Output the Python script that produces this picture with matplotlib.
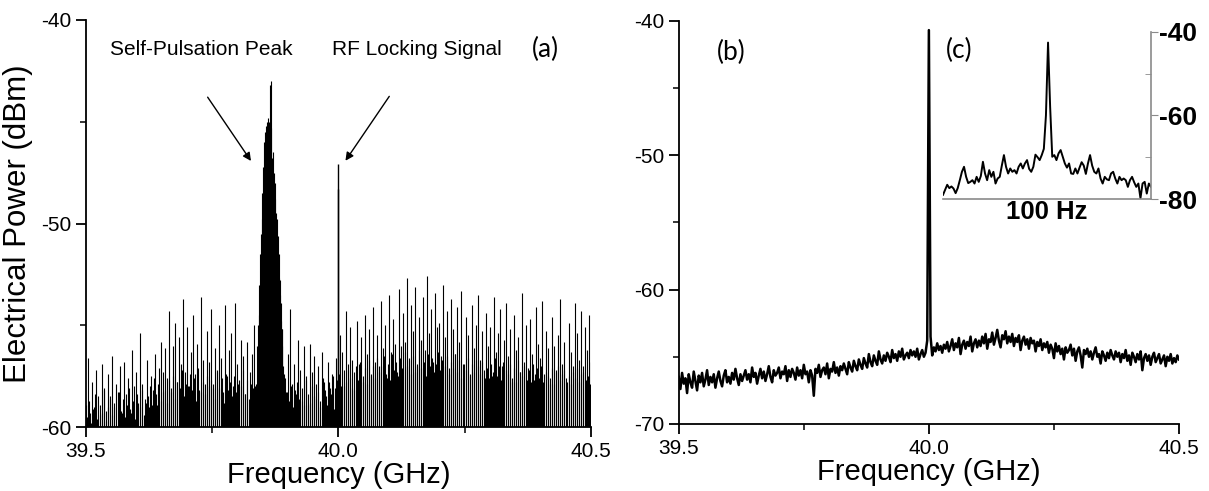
import numpy as np
import matplotlib
matplotlib.use("Agg")
import matplotlib.pyplot as plt
from matplotlib.ticker import MultipleLocator

plt.rcParams['font.family'] = ['Liberation Sans', 'DejaVu Sans']

# (a) RF spectrum, free running with lock signal -- spike heights every 4 MHz
noise_start, noise_stop = 39.5, 40.5
noise_spikes = [
    -58.9, -56.6, -59.3, -57.8, -59.0, -57.2, -58.5, -59.4, -56.9, -58.1,
    -59.2, -57.4, -58.6, -56.5, -59.0, -57.9, -58.3, -57.0, -59.3, -56.8,
    -58.4, -57.6, -59.1, -56.2, -58.0, -57.3, -58.8, -55.4, -57.9, -58.6,
    -56.7, -59.0, -57.5, -58.2, -56.4, -58.9, -57.1, -55.8, -58.3, -56.1,
    -57.6, -54.3, -58.1, -56.0, -54.9, -57.8, -55.6, -56.9, -53.7, -57.3,
    -55.1, -58.0, -56.3, -54.5, -57.4, -55.9, -58.2, -53.6, -56.7, -57.9,
    -55.3, -56.8, -54.2, -58.1, -56.1, -57.2, -55.0, -56.6, -58.3, -54.0,
    -57.5, -56.2, -55.4, -58.0, -53.9, -56.9, -57.7, -55.7, -56.5, -58.4,
    -55.8, -57.3, -56.4, -55.0, -57.9, -56.0, -57.1, -58.0, -57.5, -58.2,
    -57.8, -58.5, -57.0, -56.6, -55.9, -57.4, -56.8, -55.2, -57.6, -58.3,
    -56.4, -54.2, -57.9, -56.9, -58.4, -55.7, -57.2, -58.7, -56.0, -57.5,
    -58.9, -55.9, -57.3, -56.5, -58.6, -57.0, -59.0, -56.3, -57.8, -58.5,
    -56.8, -58.1, -57.4, -59.1, -56.6, -57.9, -55.5, -56.3, -58.0, -54.3,
    -57.2, -55.1, -56.7, -58.2, -54.8, -56.9, -55.6, -57.8, -54.5, -56.4,
    -55.2, -57.5, -54.1, -56.8, -55.5, -57.0, -53.8, -56.1, -55.0, -57.6,
    -53.5, -56.3, -54.7, -55.9, -57.3, -53.2, -56.0, -54.4, -55.8, -52.7,
    -56.6, -54.0, -55.3, -53.1, -57.0, -54.6, -55.7, -53.6, -56.2, -52.6,
    -55.4, -54.2, -56.8, -53.4, -55.1, -54.9, -56.5, -53.0, -55.6, -54.3,
    -57.1, -53.7, -55.2, -56.4, -54.1, -55.8, -53.3, -56.9, -54.6, -55.5,
    -57.4, -54.0, -56.1, -55.0, -53.5, -56.7, -55.3, -57.2, -54.4, -56.0,
    -55.1, -57.5, -53.6, -56.3, -55.4, -54.2, -57.0, -55.7, -53.9, -56.5,
    -55.2, -57.8, -54.5, -56.2, -55.6, -57.3, -53.4, -56.8, -55.0, -57.1,
    -54.7, -56.4, -57.7, -54.1, -55.9, -56.6, -53.8, -57.4, -55.3, -56.1,
    -57.9, -54.6, -56.0, -57.2, -55.5, -53.7, -56.9, -55.8, -57.6, -54.9,
    -56.3, -57.0, -53.9, -55.4, -56.7, -54.3, -57.3, -55.1, -56.2, -54.5,
    -56.8,
]

# lower spikes sitting between the ones above
floor_start, floor_stop = 39.502, 40.498
floor_spikes = [
    -59.5, -58.7, -59.8, -59.1, -58.4, -59.6, -58.9, -59.3, -58.2, -59.7,
    -59.0, -58.5, -59.4, -58.8, -59.9, -58.3, -59.2, -58.6, -59.5, -58.9,
    -58.1, -59.3, -58.7, -59.6, -58.4, -59.0, -58.2, -59.4, -58.8, -58.5,
    -58.0, -58.9, -57.6, -58.4, -57.9, -58.7, -57.3, -58.2, -58.8, -57.7,
    -58.3, -57.5, -58.6, -57.8, -58.1, -57.2, -58.5, -57.9, -58.0, -57.4,
    -58.2, -57.6, -58.7, -57.1, -58.3, -57.8, -58.4, -57.5, -58.0, -57.7,
    -57.9, -58.6, -57.3, -58.1, -57.6, -58.8, -57.4, -58.2, -57.8, -58.5,
    -57.5, -58.3, -57.9, -58.0, -57.2, -58.4, -57.7, -58.6, -57.9, -58.1,
    -58.0, -58.5, -57.8, -58.3, -58.6, -57.9, -58.4, -57.7, -58.8, -58.2,
    -58.6, -57.9, -58.4, -58.9, -57.6, -58.3, -58.7, -58.0, -59.0, -58.2,
    -57.8, -58.6, -58.1, -58.9, -57.7, -58.4, -58.8, -58.0, -58.5, -57.9,
    -58.3, -58.7, -57.6, -58.2, -58.9, -57.8, -58.4, -57.5, -58.1, -57.7,
    -57.4, -58.0, -57.2, -57.8, -56.9, -57.6, -58.1, -57.3, -57.0, -57.7,
    -56.8, -57.5, -57.1, -57.9, -56.7, -57.4, -57.0, -57.6, -56.6, -57.3,
    -57.0, -56.5, -57.4, -56.9, -57.7, -56.4, -57.2, -56.8, -57.5, -56.6,
    -57.1, -56.3, -57.0, -56.7, -57.4, -56.5, -57.3, -56.9, -56.2, -57.1,
    -56.8, -57.5, -56.4, -57.0, -56.6, -57.3, -56.9, -56.3, -57.2, -56.7,
    -57.0, -56.5, -57.4, -56.8, -57.1, -56.4, -57.3, -56.7, -57.6, -56.9,
    -57.2, -56.6, -57.5, -56.9, -57.3, -56.7, -57.0, -57.4, -56.8, -57.6,
    -57.1, -57.6, -56.9, -57.3, -56.6, -57.5, -57.0, -57.7, -56.8, -57.2,
    -57.4, -56.9, -57.6, -57.1, -57.8, -56.7, -57.3, -57.5, -57.0, -57.7,
    -57.2, -57.8, -56.9, -57.4, -57.1, -57.6, -57.0, -57.8, -57.3, -57.5,
    -57.6, -57.1, -57.9, -57.3, -57.0, -57.7, -57.4, -57.2, -57.8, -57.5,
    -57.9, -57.3, -57.6, -57.1, -57.8, -57.4, -57.0, -57.7, -57.5, -57.9,
]

# self-pulsation cluster, 1 MHz steps
cluster_start, cluster_stop = 39.838, 39.892
cluster_spikes = [
    -56.0, -58.0, -55.0, -57.5, -54.5, -53.0, -55.5, -51.5, -50.5, -52.0,
    -48.5, -49.8, -47.2, -48.5, -46.0, -47.5, -45.5, -46.8, -45.2, -46.0,
    -45.0, -46.5, -45.5, -44.8, -46.2, -45.0, -43.2, -45.8, -43.0, -45.3,
    -46.8, -47.3, -46.5, -48.0, -47.5, -48.3, -48.8, -48.0, -49.5, -50.5,
    -49.8, -51.2, -50.6, -52.0, -51.5, -52.7, -53.5, -52.8, -54.8, -53.9,
    -56.0, -55.2, -57.0, -58.2, -57.4,
]

lock_freq = [39.999, 40.0]
lock_power = [-48.3, -47.1]

# (b) locked spectrum, 301 sweep points
locked_power = [
    -66.5, -67.4, -66.2, -67.0, -66.6, -67.7, -66.3, -66.9, -67.3, -66.1,
    -66.8, -67.5, -66.4, -66.9, -66.2, -67.2, -66.7, -66.0, -67.1, -66.5,
    -66.9, -66.3, -67.3, -66.6, -66.1, -66.8, -67.2, -66.4, -66.0, -66.9,
    -66.5, -67.0, -66.2, -66.7, -65.9, -66.6, -67.1, -66.3, -66.8, -66.4,
    -66.0, -66.7, -66.3, -66.9, -65.8, -66.5, -66.2, -67.0, -66.4, -65.9,
    -66.6, -66.1, -66.8, -66.3, -65.7, -66.5, -66.9, -66.0, -66.4, -66.2,
    -65.8, -66.6, -66.1, -66.3, -65.7, -66.8, -66.0, -66.5, -65.9, -66.2,
    -66.7, -65.8, -66.4, -66.0, -66.6, -65.6, -66.3, -66.1, -66.9, -66.0,
    -66.4, -67.9, -65.9, -66.2, -65.6, -66.5, -66.0, -65.8, -66.3, -65.5,
    -66.6, -65.9, -66.1, -65.4, -66.2, -65.8, -66.4, -65.7, -66.0, -65.5,
    -65.9, -66.3, -65.4, -65.8, -66.1, -65.3, -65.7, -66.0, -65.2, -65.6,
    -65.9, -65.1, -65.5, -65.8, -64.8, -65.4, -65.7, -64.9, -65.3, -65.6,
    -64.6, -65.2, -65.5, -64.9, -65.3, -64.7, -65.0, -65.4, -64.5, -65.1,
    -64.8, -65.3, -64.6, -65.0, -64.4, -65.2, -64.9, -64.7, -65.1, -64.5,
    -64.9, -64.6, -65.0, -64.4, -65.2, -64.8, -64.5, -65.0, -64.7, -63.8,
    -40.7, -63.5, -64.9, -64.3, -64.6, -64.0, -64.5, -64.2, -64.7, -64.1,
    -64.4, -63.9, -64.6, -64.2, -63.7, -64.5, -64.0, -64.3, -63.6, -64.8,
    -64.1, -63.8, -64.4, -63.9, -64.2, -63.5, -64.6, -64.0, -63.7, -64.3,
    -63.8, -64.2, -63.5, -64.0, -63.3, -64.4, -63.7, -63.9, -63.2, -64.1,
    -63.6, -63.0, -63.8, -64.3, -63.4, -63.7, -63.1, -64.0, -63.5, -63.9,
    -63.3, -64.2, -63.6, -63.9, -63.4, -64.5, -63.8, -63.5, -64.1, -63.7,
    -64.4, -63.6, -64.0, -63.8, -64.6, -63.9, -64.2, -63.7, -64.5, -64.0,
    -64.3, -63.9, -64.7, -64.1, -64.4, -65.1, -64.0, -64.6, -64.2, -64.8,
    -64.4, -65.2, -64.3, -64.7, -64.5, -64.1, -64.9, -64.4, -65.3, -64.6,
    -64.3, -64.9, -65.8, -64.5, -64.8, -64.4, -65.0, -64.6, -65.2, -64.7,
    -64.3, -65.0, -64.8, -65.5, -64.6, -64.9, -65.3, -64.7, -65.1, -64.5,
    -64.9, -65.2, -64.6, -65.0, -64.7, -65.4, -64.8, -65.1, -64.5, -65.3,
    -64.9, -65.6, -64.7, -65.0, -65.4, -64.8, -65.2, -64.6, -66.0, -65.1,
    -64.8, -65.3, -64.9, -65.6, -65.0, -64.7, -65.4, -65.1, -64.8, -65.5,
    -65.2, -64.9, -65.7, -65.0, -65.3, -64.8, -65.5, -65.1, -65.4, -64.9,
    -65.2,
]

# (c) inset, 100 Hz span
inset_power = [
    -79.0, -77.8, -76.6, -77.4, -77.0, -77.5, -78.6, -77.4, -75.5, -73.5,
    -72.3, -74.7, -76.2, -75.9, -75.5, -76.3, -74.7, -75.9, -74.5, -71.1,
    -73.9, -75.5, -73.1, -74.7, -73.5, -76.3, -75.1, -74.7, -72.0, -69.5,
    -72.3, -73.9, -72.7, -73.5, -73.1, -73.9, -72.3, -71.5, -72.7, -71.5,
    -70.7, -72.8, -73.5, -72.3, -69.4, -70.0, -70.7, -69.5, -68.0, -60.0,
    -42.6, -58.0, -69.9, -69.5, -70.7, -69.1, -68.3, -69.9, -71.5, -72.5,
    -71.5, -73.9, -74.0, -72.7, -73.9, -72.5, -71.2, -72.0, -74.0, -71.5,
    -69.5, -72.0, -73.5, -73.9, -72.7, -75.1, -76.3, -74.7, -75.3, -75.5,
    -73.9, -73.5, -75.1, -76.3, -74.7, -75.5, -75.1, -75.5, -77.1, -75.5,
    -74.7, -76.0, -77.1, -76.3, -79.8, -76.3, -75.9, -78.7, -76.3, -77.1,
]

fig = plt.figure(figsize=(12.09, 4.91), dpi=100)
ax1 = fig.add_axes([0.0711, 0.1303, 0.4175, 0.829])
ax2 = fig.add_axes([0.5614, 0.1365, 0.4138, 0.8213])
ax3 = fig.add_axes([0.780, 0.5947, 0.172, 0.3407])

# ---- panel (a)
f_floor = np.linspace(floor_start, floor_stop, len(floor_spikes))
ax1.vlines(f_floor, -60, floor_spikes, color='black', lw=0.8)
f_noise = np.linspace(noise_start, noise_stop, len(noise_spikes))
ax1.vlines(f_noise, -60, noise_spikes, color='black', lw=0.8)
f_cl = np.linspace(cluster_start, cluster_stop, len(cluster_spikes))
ax1.vlines(f_cl, -60, cluster_spikes, color='black', lw=0.8)
ax1.vlines(lock_freq, -60, lock_power, color='black', lw=1.0)

ax1.set_xlim(39.5, 40.5)
ax1.set_ylim(-60, -40)
ax1.set_xticks([39.5, 40.0, 40.5])
ax1.set_yticks([-60, -50, -40])
ax1.xaxis.set_minor_locator(MultipleLocator(0.25))
ax1.yaxis.set_minor_locator(MultipleLocator(5))
ax1.set_xlabel('Frequency (GHz)', fontsize=21, labelpad=0)
ax1.set_ylabel('Electrical Power (dBm)', fontsize=22.5, labelpad=6)

ax1.text(39.728, -41.47, 'Self-Pulsation Peak', fontsize=15, ha='center', va='center')
ax1.text(40.156, -41.47, 'RF Locking Signal', fontsize=15, ha='center', va='center')
ax1.text(40.411, -41.47, '(a)', fontsize=19, ha='center', va='center', family='Lato')
ax1.annotate('', xy=(39.83, -47.04), xytext=(39.738, -43.68),
             arrowprops=dict(arrowstyle='-|>', lw=1, color='black', mutation_scale=12))
ax1.annotate('', xy=(40.011, -47.03), xytext=(40.104, -43.64),
             arrowprops=dict(arrowstyle='-|>', lw=1, color='black', mutation_scale=12))

# ---- panel (b)
f_locked = np.linspace(39.5, 40.5, len(locked_power))
ax2.plot(f_locked, locked_power, color='black', lw=1.8)
ax2.set_xlim(39.5, 40.5)
ax2.set_ylim(-70, -40)
ax2.set_xticks([39.5, 40.0, 40.5])
ax2.set_yticks([-70, -60, -50, -40])
ax2.xaxis.set_minor_locator(MultipleLocator(0.25))
ax2.yaxis.set_minor_locator(MultipleLocator(5))
ax2.set_xlabel('Frequency (GHz)', fontsize=21, labelpad=0)
ax2.text(39.6055, -42.33, '(b)', fontsize=19, ha='center', va='center', family='Lato')
ax2.text(40.060, -42.18, '(c)', fontsize=19, ha='center', va='center', family='Lato')

for ax in (ax1, ax2):
    for side in ('top', 'right'):
        ax.spines[side].set_visible(False)
    for side in ('left', 'bottom'):
        ax.spines[side].set_linewidth(1.3)
    ax.tick_params(which='major', direction='out', length=7, width=1.3, labelsize=15)
    ax.tick_params(which='minor', direction='out', length=4, width=1.1)
    ax.set_yticklabels([f'{int(t)}' for t in ax.get_yticks()])
    ax.set_xticklabels(['39.5', '40.0', '40.5'])

# ---- inset (c)
f_inset = np.linspace(-50, 50, len(inset_power))
ax3.plot(f_inset, inset_power, color='black', lw=1.4)
ax3.set_xlim(-50, 50)
ax3.set_ylim(-80, -40)
ax3.patch.set_alpha(0)
for side in ('top', 'left'):
    ax3.spines[side].set_visible(False)
for side in ('right', 'bottom'):
    ax3.spines[side].set_color('#8a8a8a')
    ax3.spines[side].set_linewidth(1.2)
ax3.yaxis.tick_right()
ax3.set_yticks([-80, -60, -40])
ax3.set_yticklabels(['-80', '-60', '-40'], fontweight='bold')
ax3.yaxis.set_minor_locator(MultipleLocator(10))
ax3.tick_params(axis='y', which='major', direction='out', length=5, color='#8a8a8a',
                labelsize=19, pad=1)
ax3.tick_params(axis='y', which='minor', direction='in', length=4, color='#8a8a8a')
ax3.set_xticks([])
ax3.set_xlabel('100 Hz', fontsize=18.5, fontweight='bold', labelpad=1)

fig.savefig('out.png', dpi=100)
